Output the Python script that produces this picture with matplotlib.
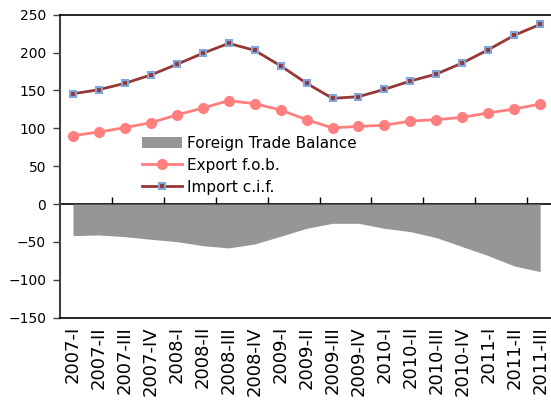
import numpy as np
import matplotlib
matplotlib.use("Agg")
import matplotlib.pyplot as plt

# quarters
quarters = ["2007-I", "2007-II", "2007-III", "2007-IV",
            "2008-I", "2008-II", "2008-III", "2008-IV",
            "2009-I", "2009-II", "2009-III", "2009-IV",
            "2010-I", "2010-II", "2010-III", "2010-IV",
            "2011-I", "2011-II", "2011-III"]

export_fob = [90.3, 95.2, 100.9, 107.5, 117.6, 126.9, 136.5, 132.6, 124.2, 111.4,
              100.5, 102.7, 104.0, 109.7, 111.4, 114.6, 120.3, 125.5, 132.1]
import_cif = [145.7, 151.0, 159.5, 170.4, 184.5, 199.1, 212.2, 203.0, 182.5, 159.5,
              139.6, 141.8, 151.5, 162.5, 171.7, 186.3, 203.8, 222.8, 237.3]
trade_balance = [-41.7, -40.8, -43.0, -46.5, -49.6, -54.9, -57.9, -52.7, -42.5, -32.0,
                 -25.4, -25.4, -32.0, -36.4, -44.3, -56.2, -68.1, -81.7, -89.2]

x = np.arange(len(quarters))

fig = plt.figure(figsize=(5.51, 4.05), dpi=100)
ax = fig.add_axes([0.1089, 0.2156, 0.895, 0.748])

ax.fill_between(x, trade_balance, 0, color="#969696", linewidth=0,
                label="Foreign Trade Balance")
ax.plot(x, export_fob, color="#FF7F7F", lw=2, marker="o", markersize=7,
        label="Export f.o.b.")
ax.plot(x, import_cif, color="#953735", lw=2, marker="s", markersize=5,
        markerfacecolor="#953735", markeredgecolor="#7FA7DC", markeredgewidth=1.5,
        label="Import c.i.f.")

ax.set_xlim(-0.5, len(quarters) - 0.5)
ax.set_ylim(-150, 250)
ax.set_yticks(range(-150, 251, 50))

ax.set_xticks(x)
ax.set_xticklabels(quarters, rotation=90, fontsize=13)
ax.tick_params(axis="x", length=0, pad=6)
ax.tick_params(axis="y", length=5, width=1, labelsize=10, pad=5, color="#404040")

ax.spines["right"].set_visible(False)
ax.spines["left"].set_color("#404040")
ax.spines["left"].set_linewidth(1.5)
ax.spines["top"].set_linewidth(1.2)
ax.spines["bottom"].set_linewidth(1.2)

# zero line with tick marks between every two quarters
sec = ax.secondary_xaxis(150 / 400)
sec.set_xticks(np.arange(1.5, len(quarters) - 0.5, 2))
sec.set_xticklabels([])
sec.tick_params(axis="x", direction="in", length=5, width=1)
sec.spines["bottom"].set_linewidth(1.2)

ax.legend(loc="upper left", bbox_to_anchor=(0.167, 0.6), frameon=False,
          fontsize=11, handlelength=2.6, handletextpad=0.3, labelspacing=0.45,
          borderpad=0, borderaxespad=0)

fig.savefig("out.png", dpi=100)
